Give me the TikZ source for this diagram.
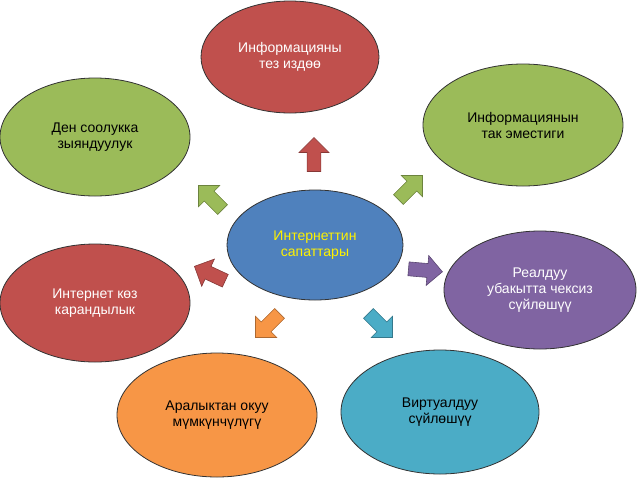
\documentclass[tikz,border=0pt]{standalone}
\usepackage{fontspec}
\setmainfont{Liberation Sans}
\usetikzlibrary{shapes.geometric,shapes.arrows}
\definecolor{cred}{HTML}{C0504D}
\definecolor{cgreen}{HTML}{9BBB59}
\definecolor{cpurple}{HTML}{8064A2}
\definecolor{corange}{HTML}{F79646}
\definecolor{cteal}{HTML}{4BACC6}
\definecolor{cblue}{HTML}{4F81BD}
\tikzset{
  bub/.style={ellipse, draw=black!80, line width=0.8pt, align=center, inner sep=0pt,
    font=\fontsize{14}{16}\selectfont},
  barr/.style={single arrow, draw=#1!70!black, fill=#1, line width=0.6pt,
    minimum height=34pt, minimum width=30pt, single arrow head extend=5pt, inner sep=4pt}
}
\begin{document}
\begin{tikzpicture}[x=1pt,y=-1pt]
\useasboundingbox (0,0) rectangle (640,480);
\node[bub, fill=cblue, minimum width=176pt, minimum height=110pt, text=yellow] (c) at (315,245) {Интернеттин\\сапаттары};
\node[bub, fill=cred, minimum width=178pt, minimum height=112pt, text=white] (t) at (290,57) {Информацияны\\тез издөө};
\node[bub, fill=cgreen, minimum width=200pt, minimum height=122pt] (tr) at (523,125) {Информациянын\\так эместиги};
\node[bub, fill=cgreen, minimum width=190pt, minimum height=118pt] (tl) at (95,137) {Ден соолукка\\зыяндуулук};
\node[bub, fill=cpurple, minimum width=192pt, minimum height=118pt, text=white] (r) at (540,290) {Реалдуу\\убакытта чексиз\\сүйлөшүү};
\node[bub, fill=cred, minimum width=190pt, minimum height=118pt, text=white] (l) at (95,303) {Интернет көз\\карандылык};
\node[bub, fill=corange, minimum width=200pt, minimum height=124pt] (bl) at (217,415) {Аралыктан окуу\\мүмкүнчүлүгү};
\node[bub, fill=cteal, minimum width=198pt, minimum height=124pt] (br) at (440,412) {Виртуалдуу\\сүйлөшүү};
\node[barr=cred, rotate=90] (a1) at (314,158) {};
\node[barr=cgreen, rotate=45] (a2) at (408,190) {};
\node[barr=cgreen, rotate=135] (a3) at (213,200) {};
\node[barr=cpurple, rotate=-5] (a4) at (422,270) {};
\node[barr=cred, rotate=155] (a5) at (213,275) {};
\node[barr=corange, rotate=-135] (a6) at (270,323) {};
\node[barr=cteal, rotate=-45] (a7) at (378,323) {};
\end{tikzpicture}
\end{document}
